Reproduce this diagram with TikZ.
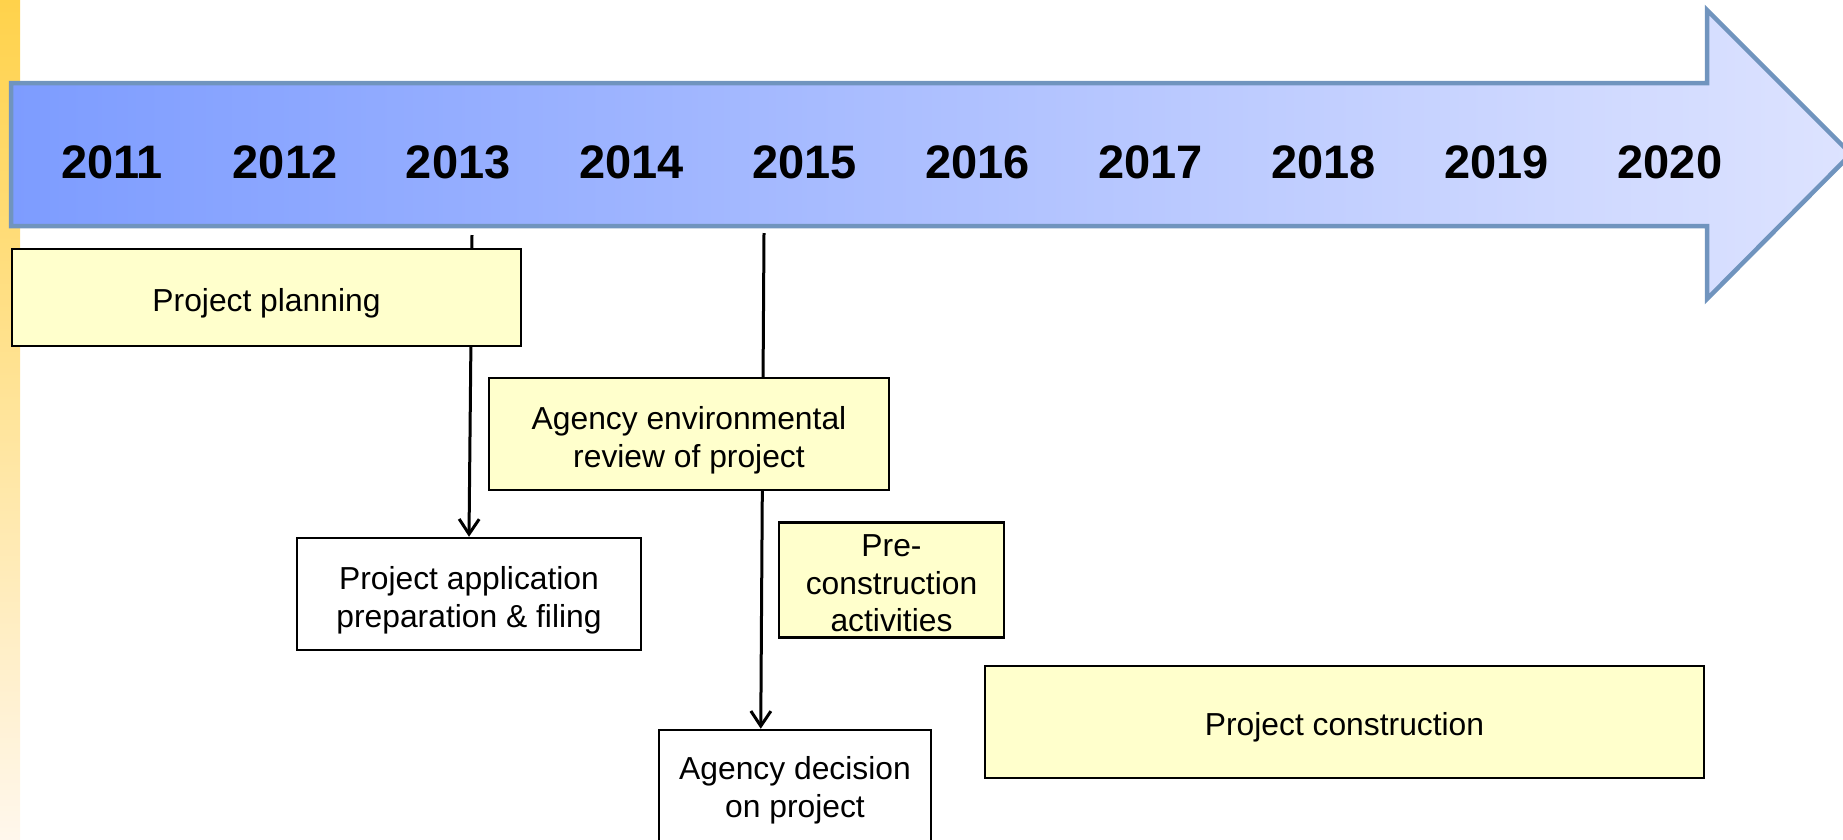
\documentclass[tikz,border=0pt]{standalone}
\usepackage{fontspec}
\setmainfont{Liberation Sans}
\usetikzlibrary{arrows.meta,calc,backgrounds}
\definecolor{arrowedge}{RGB}{112,148,190}
\definecolor{arrowleft}{RGB}{125,156,255}
\definecolor{arrowright}{RGB}{221,227,255}
\definecolor{boxyellow}{RGB}{255,255,204}
\definecolor{stripetop}{RGB}{255,210,75}
\definecolor{stripebot}{RGB}{255,247,236}
\newcommand\topstrut[1]{\rule{0pt}{#1pt}}
\tikzset{
 yearlabel/.style={font=\fontsize{47}{54}\selectfont\bfseries, inner sep=0pt},
 stagebox/.style={draw=black, line width=2.5pt, fill=boxyellow, align=center,
   font=\fontsize{31.8}{37.6}\selectfont, inner sep=0pt},
 eventbox/.style={stagebox, fill=white},
 flow/.style={line width=3pt, -{Straight Barb[length=15pt,width=20pt]}},
}
\begin{document}
\begin{tikzpicture}[x=1pt,y=-1pt]
\useasboundingbox (0,0) rectangle (1843,839);
\clip (0,0) rectangle (1843,839);
% left stripe
\fill[top color=stripetop, bottom color=stripebot] (0,0) rectangle (20,839);
% timeline arrow
\path[left color=arrowleft, right color=arrowright, draw=arrowedge, line width=4.5pt, line join=miter]
  (11,83) -- (1707,83) -- (1707,10) -- (1851,154) -- (1707,299) -- (1707,226) -- (11,226) -- cycle;
\foreach \yr [count=\i from 0] in {2011,2012,2013,2014,2015,2016,2017,2018,2019,2020}
  \node[yearlabel] (y\yr) at ({112+173.1*\i},162) {\yr};
% boxes
\node[stagebox, minimum width=509pt, minimum height=97pt] (plan) at (266.5,297.5) {\topstrut{34}Project planning};
\node[stagebox, minimum width=400pt, minimum height=112pt] (review) at (689,434) {\topstrut{35}Agency environmental\\review of project};
\node[eventbox, minimum width=344pt, minimum height=112pt] (appl) at (469,594) {\topstrut{35}Project application\\preparation \& filing};
\node[stagebox, minimum width=225pt, minimum height=115pt] (precon) at (891.5,580) {\topstrut{29}Pre-\\construction\\activities};
\node[eventbox, minimum width=272pt, minimum height=116pt] (decision) at (795,788) {\topstrut{27}Agency decision\\on project};
\node[stagebox, minimum width=719pt, minimum height=112pt] (constr) at (1344.5,722) {\topstrut{34}Project construction};
% connectors
\coordinate (s1) at (472,235);
\coordinate (s2) at (764,233);
\coordinate (e2) at ($(decision.north west)+(103,0)$);
\begin{scope}[on background layer]
\draw[flow] (s1) -- (appl.north);
\draw[flow] (s2) -- (e2);
\end{scope}
\end{tikzpicture}
\end{document}
